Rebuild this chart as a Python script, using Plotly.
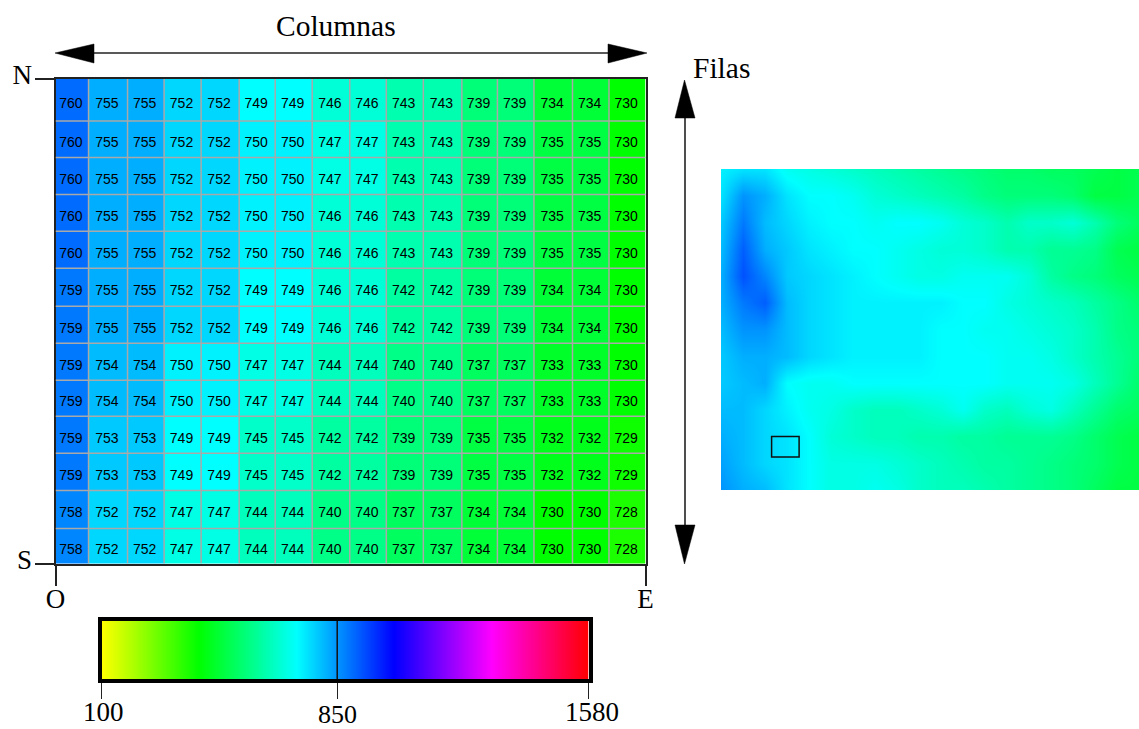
import plotly.graph_objects as go

W, H = 1139, 729
SERIF = "Liberation Serif"

# Elevations of the 13 x 16 grid (north to south, west to east)
elev_rows = [
    [760,755,755,752,752,749,749,746,746,743,743,739,739,734,734,730],
    [760,755,755,752,752,750,750,747,747,743,743,739,739,735,735,730],
    [760,755,755,752,752,750,750,747,747,743,743,739,739,735,735,730],
    [760,755,755,752,752,750,750,746,746,743,743,739,739,735,735,730],
    [760,755,755,752,752,750,750,746,746,743,743,739,739,735,735,730],
    [759,755,755,752,752,749,749,746,746,742,742,739,739,734,734,730],
    [759,755,755,752,752,749,749,746,746,742,742,739,739,734,734,730],
    [759,754,754,750,750,747,747,744,744,740,740,737,737,733,733,730],
    [759,754,754,750,750,747,747,744,744,740,740,737,737,733,733,730],
    [759,753,753,749,749,745,745,742,742,739,739,735,735,732,732,729],
    [759,753,753,749,749,745,745,742,742,739,739,735,735,732,732,729],
    [758,752,752,747,747,744,744,740,740,737,737,734,734,730,730,728],
    [758,752,752,747,747,744,744,740,740,737,737,734,734,730,730,728],
]
col_edges = [0,0.896,1.954,2.945,3.949,4.981,5.958,6.962,7.980,8.971,9.975,11.02,11.984,12.975,14.02,15.01,16]
row_edges = [0,1.128,2.108,3.102,4.083,5.076,6.097,7.09,8.085,9.05,10.045,11.04,12.06,13]

# Coarse reading of the relief image on the right
relief_rows = [
    [750,751,751,748,747,746,745,744,743,742,741,740,739,738,738,737,737,736,735,736],
    [751,757,755,751,749,749,748,746,745,744,743,742,740,739,739,739,738,735,735,736],
    [753,759,754,752,750,749,749,748,749,749,748,746,745,743,745,745,746,743,739,737],
    [754,761,755,753,751,750,749,749,748,747,746,746,745,743,743,741,741,740,736,735],
    [755,762,758,753,752,751,750,749,748,747,747,748,748,748,746,742,740,739,737,736],
    [755,759,761,754,752,751,750,750,750,750,750,749,749,747,746,745,744,742,740,738],
    [754,757,757,754,752,751,750,750,750,750,749,749,748,748,747,746,745,743,740,739],
    [753,755,755,754,752,751,750,750,750,750,749,749,749,748,748,747,745,743,741,739],
    [753,754,755,749,748,748,749,749,749,749,749,749,749,748,748,748,747,744,741,738],
    [754,754,752,750,748,747,745,744,744,745,746,748,745,744,746,747,744,741,738,737],
    [755,754,752,751,749,746,745,744,744,743,743,742,742,741,741,741,740,738,736,735],
    [756,754,752,751,749,747,747,747,746,745,744,743,742,742,741,740,739,738,736,735],
    [757,755,754,751,749,747,747,748,747,745,744,744,743,742,741,740,739,737,735,735],
]
study_area_cols = [2.3, 3.55]
study_area_rows = [10.0, 10.77]

# Colour ramp
ramp_positions = [0, 0.2, 0.4, 0.6, 0.8, 1]
ramp_colors = ["#ffff00", "#00ff00", "#00ffff", "#0000ff", "#ff00ff", "#ff0000"]
elev_min, elev_max = 711, 806

# Legend bar
bar_stops = [0, 20, 40, 60, 80, 100]
bar_label_pos = [0, 48.4, 100]
bar_labels = ["100", "850", "1580"]

scale = [[p, c] for p, c in zip(ramp_positions, ramp_colors)]

def fx(px):
    return px / W

def fy(px):
    return 1 - px / H

fig = go.Figure()

fig.add_trace(go.Heatmap(
    z=elev_rows, x=col_edges, y=row_edges, colorscale=scale, zmin=elev_min, zmax=elev_max,
    showscale=False, hoverinfo="skip", xaxis="x", yaxis="y"))

# cell labels, sitting a little below and left of the cell centres as in the picture
label_x, label_y, label_t = [], [], []
for r, row in enumerate(elev_rows):
    for c, v in enumerate(row):
        label_x.append((col_edges[c] + col_edges[c + 1]) / 2 - 0.03)
        label_y.append((row_edges[r] + row_edges[r + 1]) / 2 + 0.12)
        label_t.append(str(v))
fig.add_trace(go.Scatter(
    x=label_x, y=label_y, text=label_t, mode="text", textposition="middle center",
    textfont=dict(family="Liberation Sans", size=14, color="black"),
    hoverinfo="skip", xaxis="x", yaxis="y"))

fig.add_trace(go.Heatmap(
    z=relief_rows, colorscale=scale, zmin=elev_min, zmax=elev_max, zsmooth="best",
    showscale=False, hoverinfo="skip", xaxis="x2", yaxis="y2"))

fig.add_trace(go.Heatmap(
    z=[bar_stops, bar_stops], x=bar_stops, y=[0, 1], colorscale=scale, zmin=0, zmax=100,
    zsmooth="best", showscale=False, hoverinfo="skip", xaxis="x3", yaxis="y3"))

shapes = []
GRID = dict(color="#a9a9a9", width=1.5)
for e in col_edges[1:-1]:
    shapes.append(dict(type="line", xref="x", yref="y", x0=e, x1=e, y0=0, y1=13, line=GRID))
for e in row_edges[1:-1]:
    shapes.append(dict(type="line", xref="x", yref="y", x0=0, x1=16, y0=e, y1=e, line=GRID))

# study area on the relief image
shapes.append(dict(type="rect", xref="x2", yref="y2",
                   x0=study_area_cols[0], x1=study_area_cols[1],
                   y0=study_area_rows[0], y1=study_area_rows[1],
                   line=dict(color="#101010", width=1.5)))

# 850 line through the legend bar
shapes.append(dict(type="line", xref="x3", yref="y3", x0=bar_label_pos[1], x1=bar_label_pos[1],
                   y0=0, y1=1, line=dict(color="#111111", width=1.5)))

# direction arrows
ARROW = dict(color="#222222", width=1.6)
shapes.append(dict(type="line", xref="paper", yref="paper", x0=fx(90), x1=fx(612),
                   y0=fy(53), y1=fy(53), line=ARROW))
shapes.append(dict(type="line", xref="paper", yref="paper", x0=fx(685), x1=fx(685),
                   y0=fy(115), y1=fy(528), line=ARROW))

def tri(p1, p2, p3):
    path = "M {} {} L {} {} L {} {} Z".format(fx(p1[0]), fy(p1[1]), fx(p2[0]), fy(p2[1]), fx(p3[0]), fy(p3[1]))
    return dict(type="path", xref="paper", yref="paper", path=path,
                fillcolor="black", line=dict(color="black", width=0.5))

shapes += [
    tri((55, 53), (94, 44), (94, 63)),
    tri((647, 53), (608, 44), (608, 63)),
    tri((684.5, 80), (675, 118), (695, 118)),
    tri((684.5, 564), (675, 525), (695, 525)),
]

annotations = [
    dict(text="Columnas", xref="paper", yref="paper", x=fx(336), y=fy(26), showarrow=False,
         xanchor="center", yanchor="middle", font=dict(family=SERIF, size=29.5, color="black")),
    dict(text="Filas", xref="paper", yref="paper", x=fx(721), y=fy(68), showarrow=False,
         xanchor="center", yanchor="middle", font=dict(family=SERIF, size=29.5, color="black")),
]
for pos, lab, ypx, size, dx in zip(bar_label_pos, bar_labels, [712, 714, 712], [27, 26, 27], [2, 0, 3]):
    annotations.append(dict(text=lab, xref="x3", yref="paper", x=pos, y=fy(ypx), showarrow=False,
                            xanchor="center", yanchor="middle", xshift=dx,
                            font=dict(family=SERIF, size=size, color="black")))

fig.update_layout(
    width=W, height=H, margin=dict(l=0, r=0, t=0, b=0, pad=0, autoexpand=False),
    paper_bgcolor="white", plot_bgcolor="white", showlegend=False,
    shapes=shapes, annotations=annotations,
    xaxis=dict(domain=[fx(55.5), fx(645.5)], range=[0, 16], tickmode="array", tickvals=[0, 16],
               ticktext=["O", "E"], ticks="outside", ticklen=20, tickwidth=1.5, tickcolor="#222222",
               tickfont=dict(family=SERIF, size=27, color="black"), tickangle=0, ticklabelstandoff=-10,
               showgrid=False, zeroline=False, showline=True, mirror=True, linecolor="#222222", linewidth=2),
    yaxis=dict(domain=[fy(563.5), fy(79)], range=[13, 0], tickmode="array", tickvals=[0, 13],
               ticktext=["N", "S"], ticks="outside", ticklen=19, tickwidth=1.5, tickcolor="#222222",
               tickfont=dict(family=SERIF, size=27, color="black"), ticklabelstandoff=-3, ticklabelshift=4,
               showgrid=False, zeroline=False, showline=True, mirror=True, linecolor="#222222", linewidth=2),
    xaxis2=dict(domain=[fx(721), fx(1139)], range=[0, 19], visible=False),
    yaxis2=dict(domain=[fy(490), fy(169)], range=[12, 0], visible=False),
    xaxis3=dict(domain=[fx(101.5), fx(588.5)], range=[0, 100], tickmode="array", tickvals=bar_label_pos,
                ticktext=["", "", ""], ticks="outside", ticklen=16, tickwidth=1.2, tickcolor="#222222",
                showgrid=False, zeroline=False, showline=True, mirror=True, linecolor="black", linewidth=4,
                anchor="y3"),
    yaxis3=dict(domain=[fy(679), fy(621)], range=[0, 1], showticklabels=False, ticks="",
                showgrid=False, zeroline=False, showline=True, mirror=True, linecolor="black", linewidth=4,
                anchor="x3"),
)

fig.write_html("out.html", config={"displayModeBar": False},
               post_script="document.body.style.margin='0';document.body.style.overflow='hidden';")
